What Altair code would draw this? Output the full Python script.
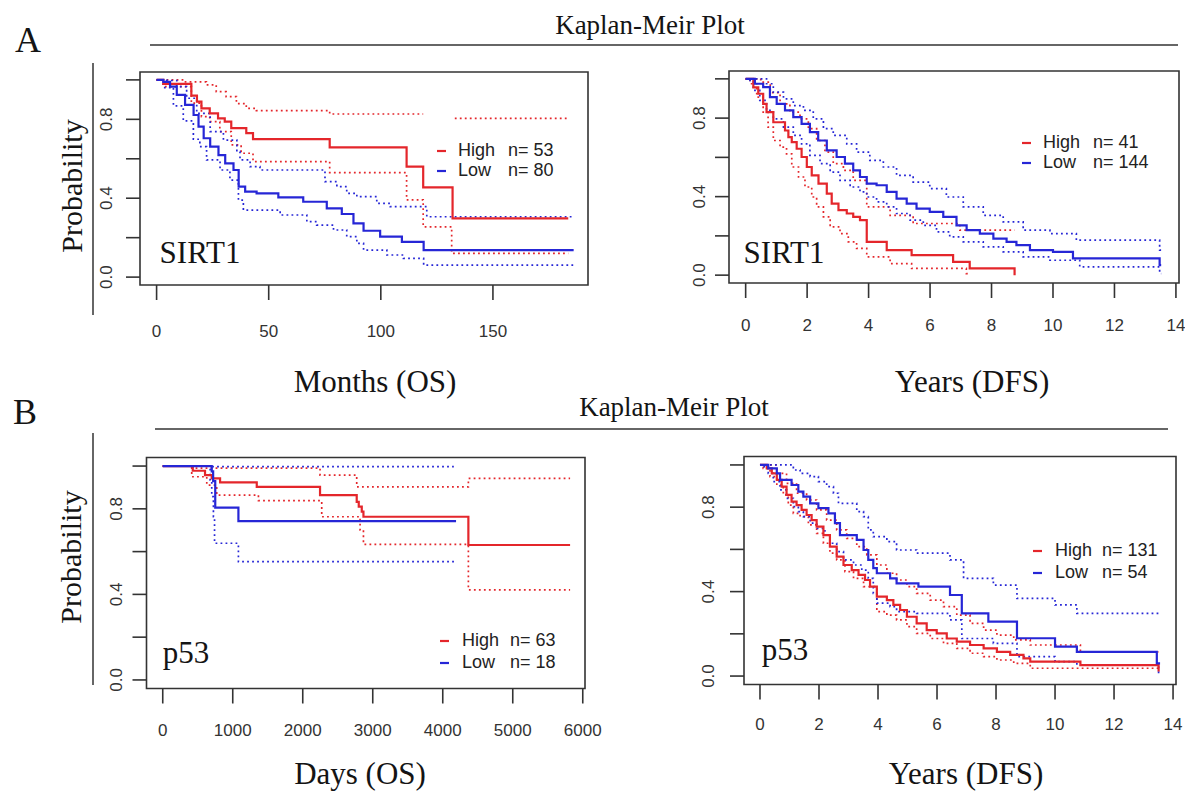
import altair as alt
import pandas as pd

RED = "#e4262b"
BLUE = "#2626d6"
INK = "#141414"
AXC = "#333333"
SERIF = "Liberation Serif"
SANS = "Liberation Sans"
GROUPS = ["High", "Low"]

# ---------------- Panel A1 : SIRT1, Months (OS) ----------------
a1_high_t = [0, 3, 15.5, 18, 20, 23.7, 27.4, 30.4, 33.3, 40, 43, 77.2, 111.5, 118.9, 132, 183.6]
a1_high_s = [1.0, 0.98, 0.92, 0.89, 0.856, 0.83, 0.805, 0.788, 0.755, 0.73, 0.70, 0.658, 0.56, 0.455, 0.298, 0.298]
a1_high_up1_t = [0, 12, 22.2, 26.6, 31, 35.6, 40, 44.5, 77.2, 118.9]
a1_high_up1_s = [1.0, 0.99, 0.975, 0.94, 0.915, 0.88, 0.856, 0.844, 0.827, 0.827]
a1_high_up2_t = [133, 183.6]
a1_high_up2_s = [0.805, 0.805]
a1_high_lo_t = [0, 3, 15.5, 20, 23.7, 28.2, 33.3, 37.7, 43, 77.2, 111.5, 118.9, 131.6, 183.6]
a1_high_lo_s = [1.0, 0.966, 0.882, 0.814, 0.788, 0.738, 0.67, 0.628, 0.586, 0.53, 0.392, 0.255, 0.12, 0.12]
a1_low_t = [0, 3, 6, 9, 12.7, 16.5, 18.7, 21, 23.9, 27.6, 30.6, 34.3, 36.6, 39.5, 44.6, 54.3, 65.4,
            75.9, 82.6, 87.8, 92.3, 99.7, 109.4, 119.1, 186]
a1_low_s = [1.0, 0.99, 0.966, 0.924, 0.873, 0.822, 0.763, 0.704, 0.662, 0.619, 0.577, 0.543, 0.459,
            0.433, 0.425, 0.404, 0.382, 0.349, 0.32, 0.272, 0.235, 0.205, 0.179, 0.137, 0.137]
a1_low_up_t = [0, 4.5, 9, 13.4, 17.9, 23.9, 29.8, 35.8, 37.2, 41.7, 46.1, 75.1, 80.4, 84.8, 89.3, 98.2,
               104.2, 120.5, 186]
a1_low_up_s = [1.0, 0.997, 0.966, 0.907, 0.83, 0.738, 0.695, 0.636, 0.594, 0.56, 0.543, 0.484, 0.459,
               0.425, 0.408, 0.374, 0.357, 0.306, 0.306]
a1_low_lo_t = [0, 3, 7.5, 11.9, 16.4, 19.3, 22.3, 28.3, 32.7, 36.5, 38.7, 55.1, 67, 71.4, 78.9, 84.8,
               89.3, 92.3, 102.7, 110.1, 119.1, 186]
a1_low_lo_s = [1.0, 0.961, 0.868, 0.792, 0.699, 0.662, 0.594, 0.543, 0.492, 0.39, 0.34, 0.315, 0.281,
               0.264, 0.239, 0.205, 0.171, 0.137, 0.112, 0.095, 0.061, 0.061]

# ---------------- Panel A2 : SIRT1, Years (DFS) ----------------
a2_high_t = [0, 0.25, 0.41, 0.57, 0.68, 0.9, 1.28, 1.39, 1.5, 1.66, 1.82, 1.99, 2.15, 2.37, 2.64, 2.8,
             3.02, 3.29, 3.5, 3.72, 3.94, 4.59, 5.4, 6.75, 7.29, 8.75]
a2_high_s = [1.0, 0.957, 0.924, 0.873, 0.83, 0.779, 0.737, 0.703, 0.678, 0.644, 0.602, 0.551, 0.508,
             0.466, 0.415, 0.364, 0.331, 0.314, 0.297, 0.28, 0.17, 0.127, 0.102, 0.068, 0.034, 0.0]
a2_high_up_t = [0, 0.49, 0.8, 1.12, 1.44, 1.77, 2.04, 2.31, 2.58, 2.85, 3.18, 3.5, 3.94, 4.7, 5.45, 6.97, 8.75]
a2_high_up_s = [1.0, 0.983, 0.93, 0.873, 0.83, 0.796, 0.746, 0.686, 0.627, 0.568, 0.534, 0.483, 0.348,
                0.305, 0.263, 0.229, 0.229]
a2_high_lo_t = [0, 0.14, 0.36, 0.57, 0.73, 0.9, 1.12, 1.33, 1.5, 1.72, 1.93, 2.15, 2.31, 2.53, 2.75, 3.07,
                3.34, 3.61, 3.94, 4.7, 5.4, 7.18, 7.24]
a2_high_lo_s = [1.0, 0.975, 0.907, 0.83, 0.754, 0.686, 0.652, 0.618, 0.551, 0.5, 0.449, 0.398, 0.348,
                0.297, 0.246, 0.212, 0.17, 0.136, 0.093, 0.059, 0.034, 0.008, 0.008]
a2_low_t = [0, 0.3, 0.57, 0.79, 1.01, 1.28, 1.55, 1.82, 2.09, 2.36, 2.64, 2.96, 3.23, 3.5, 3.72, 3.94,
            4.26, 4.59, 4.91, 5.24, 5.56, 5.99, 6.43, 6.86, 7.19, 7.62, 8.06, 8.49, 8.81, 9.25, 10.0,
            10.65, 13.47, 13.52]
a2_low_s = [1.0, 0.975, 0.958, 0.907, 0.873, 0.839, 0.805, 0.771, 0.729, 0.686, 0.636, 0.602, 0.568,
            0.534, 0.5, 0.466, 0.458, 0.424, 0.39, 0.364, 0.339, 0.322, 0.297, 0.254, 0.229, 0.212,
            0.186, 0.17, 0.153, 0.127, 0.119, 0.085, 0.051, 0.051]
a2_low_up_t = [0, 0.46, 0.68, 0.9, 1.23, 1.55, 1.88, 2.2, 2.53, 2.85, 3.29, 3.61, 4.04, 4.48, 4.91, 5.45,
               5.99, 6.53, 7.08, 7.73, 8.38, 9.03, 9.9, 10.76, 13.47, 13.52]
a2_low_up_s = [1.0, 1.0, 0.975, 0.932, 0.898, 0.864, 0.839, 0.796, 0.746, 0.712, 0.669, 0.627, 0.585,
               0.551, 0.508, 0.474, 0.441, 0.398, 0.348, 0.305, 0.271, 0.229, 0.212, 0.178, 0.127, 0.127]
a2_low_lo_t = [0, 0.03, 0.25, 0.46, 0.68, 0.9, 1.23, 1.55, 1.82, 2.09, 2.42, 2.75, 3.07, 3.4, 3.72, 3.94,
               4.26, 4.59, 4.91, 5.35, 5.78, 6.21, 6.64, 7.08, 7.73, 8.38, 9.03, 9.9, 10.87, 13.47, 13.52]
a2_low_lo_s = [1.0, 0.992, 0.941, 0.89, 0.839, 0.796, 0.754, 0.712, 0.669, 0.61, 0.568, 0.525, 0.483,
               0.449, 0.424, 0.398, 0.373, 0.348, 0.314, 0.28, 0.254, 0.22, 0.195, 0.17, 0.144, 0.119,
               0.093, 0.076, 0.042, 0.008, 0.008]

# ---------------- Panel B1 : p53, Days (OS) ----------------
b1_high_t = [0, 429, 604, 700, 819, 1343, 2247, 2771, 2800, 2843, 2867, 4366, 5819]
b1_high_s = [1.0, 0.978, 0.958, 0.942, 0.924, 0.903, 0.864, 0.833, 0.81, 0.787, 0.763, 0.631, 0.631]
b1_high_up_t = [0, 429, 2247, 2771, 4366, 5819]
b1_high_up_s = [1.0, 0.99, 0.958, 0.903, 0.942, 0.942]
b1_high_lo_t = [0, 414, 629, 771, 1367, 2271, 2819, 2867, 4366, 5819]
b1_high_lo_s = [1.0, 0.95, 0.911, 0.864, 0.838, 0.763, 0.701, 0.634, 0.421, 0.421]
b1_low_t = [0, 700, 720, 750, 1081, 4190]
b1_low_s = [1.0, 0.975, 0.93, 0.806, 0.743, 0.743]
b1_low_up_t = [0, 700, 4158]
b1_low_up_s = [1.0, 0.997, 0.997]
b1_low_lo_t = [0, 677, 700, 724, 740, 1081, 4176]
b1_low_lo_s = [1.0, 0.935, 0.857, 0.763, 0.639, 0.553, 0.553]

# ---------------- Panel B2 : p53, Years (DFS) ----------------
b2_high_t = [0, 0.23, 0.4, 0.57, 0.735, 0.9, 1.07, 1.24, 1.41, 1.58, 1.75, 1.92, 2.15, 2.37, 2.6, 2.83,
             3.11, 3.34, 3.56, 3.73, 3.96, 4.3, 4.52, 4.75, 4.98, 5.31, 5.65, 5.99, 6.33, 6.67, 7.12,
             7.58, 8.03, 8.48, 8.93, 9.16, 10.86, 13.51]
b2_high_s = [1.0, 0.984, 0.96, 0.929, 0.897, 0.858, 0.826, 0.81, 0.787, 0.763, 0.739, 0.708, 0.668,
             0.613, 0.566, 0.526, 0.502, 0.479, 0.455, 0.424, 0.376, 0.36, 0.337, 0.313, 0.281, 0.25,
             0.218, 0.202, 0.178, 0.163, 0.147, 0.131, 0.115, 0.1, 0.084, 0.068, 0.052, 0.021]
b2_high_up_t = [0, 0.23, 0.57, 0.9, 1.24, 1.58, 1.92, 2.26, 2.6, 2.94, 3.28, 3.62, 3.96, 4.3, 4.63, 4.98,
                5.31, 5.77, 6.22, 6.67, 7.12, 7.58, 8.03, 8.6, 9.16, 10.86, 13.51]
b2_high_up_s = [1.0, 1.0, 0.96, 0.913, 0.866, 0.834, 0.787, 0.739, 0.692, 0.652, 0.613, 0.574, 0.526,
                0.487, 0.455, 0.424, 0.392, 0.36, 0.329, 0.289, 0.25, 0.218, 0.194, 0.171, 0.147,
                0.115, 0.115]
b2_high_lo_t = [0, 0.11, 0.34, 0.57, 0.79, 0.96, 1.13, 1.36, 1.64, 1.92, 2.15, 2.37, 2.6, 2.88, 3.17,
                3.51, 3.96, 4.3, 4.63, 4.98, 5.31, 5.77, 6.22, 6.67, 7.12, 7.58, 8.03, 8.6, 9.16, 13.51]
b2_high_lo_s = [1.0, 0.984, 0.945, 0.905, 0.858, 0.81, 0.771, 0.755, 0.716, 0.676, 0.629, 0.582, 0.55,
                0.495, 0.463, 0.424, 0.305, 0.289, 0.266, 0.234, 0.202, 0.178, 0.155, 0.131, 0.108,
                0.092, 0.076, 0.06, 0.037, 0.037]
b2_low_t = [0, 0.28, 0.57, 0.68, 1.07, 1.3, 1.47, 1.7, 1.98, 2.32, 2.54, 2.71, 3.28, 3.51, 3.67, 3.84,
            3.96, 4.41, 4.63, 5.37, 6.44, 6.84, 7.74, 8.71, 10.0, 10.74, 13.45, 13.56]
b2_low_s = [1.0, 0.984, 0.96, 0.929, 0.905, 0.874, 0.85, 0.818, 0.795, 0.771, 0.724, 0.668, 0.645,
            0.597, 0.55, 0.511, 0.487, 0.463, 0.439, 0.424, 0.384, 0.297, 0.258, 0.179, 0.139, 0.115,
            0.06, 0.06]
b2_low_up_t = [0, 1.13, 1.36, 1.7, 1.98, 2.26, 2.49, 2.66, 3.28, 3.51, 3.67, 3.84, 4.3, 4.63, 5.31, 6.44,
               6.9, 7.91, 8.71, 10.0, 10.74, 13.56]
b2_low_up_s = [1.0, 0.976, 0.96, 0.945, 0.921, 0.897, 0.866, 0.818, 0.779, 0.755, 0.692, 0.66, 0.637,
               0.597, 0.582, 0.55, 0.463, 0.431, 0.368, 0.337, 0.297, 0.297]
b2_low_lo_t = [0, 0.06, 0.28, 0.45, 0.68, 0.9, 1.13, 1.3, 1.47, 1.7, 1.92, 2.2, 2.37, 2.6, 2.83, 3.17,
               3.45, 3.67, 3.84, 3.96, 4.41, 4.63, 5.31, 6.44, 6.84, 7.91, 8.71, 10.0, 10.74, 13.51, 13.56]
b2_low_lo_s = [1.0, 0.992, 0.96, 0.921, 0.882, 0.842, 0.803, 0.779, 0.755, 0.724, 0.7, 0.668, 0.629,
               0.589, 0.55, 0.526, 0.502, 0.463, 0.392, 0.345, 0.329, 0.305, 0.297, 0.266, 0.178, 0.155,
               0.092, 0.068, 0.052, 0.013, 0.013]

# ---------------- tick values / labels ----------------
a1_xticks = [0, 50, 100, 150]
b1_xticks = [0, 1000, 2000, 3000, 4000, 5000, 6000]
yrs_xticks = [0, 2, 4, 6, 8, 10, 12, 14]
y_ticks = [0, 0.2, 0.4, 0.6, 0.8, 1.0]
y_labeled = [0, 0.4, 0.8]
y_labels = ["0.0", "0.4", "0.8"]

n_counts = {"A1": (53, 80), "A2": (41, 144), "B1": (63, 18), "B2": (131, 54)}
gene = {"A1": "SIRT1", "A2": "SIRT1", "B1": "p53", "B2": "p53"}
x_titles = {"A1": "Months (OS)", "A2": "Years (DFS)", "B1": "Days (OS)", "B2": "Years (DFS)"}

curves = {
    "A1": [("H_est", "High", "est", a1_high_t, a1_high_s),
           ("H_up1", "High", "ci", a1_high_up1_t, a1_high_up1_s),
           ("H_up2", "High", "ci", a1_high_up2_t, a1_high_up2_s),
           ("H_lo", "High", "ci", a1_high_lo_t, a1_high_lo_s),
           ("L_est", "Low", "est", a1_low_t, a1_low_s),
           ("L_up", "Low", "ci", a1_low_up_t, a1_low_up_s),
           ("L_lo", "Low", "ci", a1_low_lo_t, a1_low_lo_s)],
    "A2": [("H_est", "High", "est", a2_high_t, a2_high_s),
           ("H_up", "High", "ci", a2_high_up_t, a2_high_up_s),
           ("H_lo", "High", "ci", a2_high_lo_t, a2_high_lo_s),
           ("L_est", "Low", "est", a2_low_t, a2_low_s),
           ("L_up", "Low", "ci", a2_low_up_t, a2_low_up_s),
           ("L_lo", "Low", "ci", a2_low_lo_t, a2_low_lo_s)],
    "B1": [("H_est", "High", "est", b1_high_t, b1_high_s),
           ("H_up", "High", "ci", b1_high_up_t, b1_high_up_s),
           ("H_lo", "High", "ci", b1_high_lo_t, b1_high_lo_s),
           ("L_est", "Low", "est", b1_low_t, b1_low_s),
           ("L_up", "Low", "ci", b1_low_up_t, b1_low_up_s),
           ("L_lo", "Low", "ci", b1_low_lo_t, b1_low_lo_s)],
    "B2": [("H_est", "High", "est", b2_high_t, b2_high_s),
           ("H_up", "High", "ci", b2_high_up_t, b2_high_up_s),
           ("H_lo", "High", "ci", b2_high_lo_t, b2_high_lo_s),
           ("L_est", "Low", "est", b2_low_t, b2_low_s),
           ("L_up", "Low", "ci", b2_low_up_t, b2_low_up_s),
           ("L_lo", "Low", "ci", b2_low_lo_t, b2_low_lo_s)],
}

# ---------------- layout (pixels) ----------------
Y_DOM = [-0.04, 1.04]
layout = {
    #       box (l, t, r, b)           x domain          x ticks     xlab_y ylab_x  title_y
    "A1": dict(box=(140, 72, 588, 285), xdom=[-7.4, 192.4], xt=a1_xticks, xly=332, ylx=107, tx=375, ty=383,
               gene_xy=(200, 263), leg=(437, 458, 508, 151, 171)),
    "A2": dict(box=(729, 71, 1179, 283), xdom=[-0.542, 14.1], xt=yrs_xticks, xly=326, ylx=700, tx=972, ty=383,
               gene_xy=(784, 263), leg=(1022, 1043, 1093, 143, 163)),
    "B1": dict(box=(146.5, 457.5, 585, 688.5), xdom=[-232, 6032], xt=b1_xticks, xly=731, ylx=117, tx=360, ty=775,
               gene_xy=(186, 663), leg=(440, 462, 510, 641, 663)),
    "B2": dict(box=(744, 456.5, 1176, 684.5), xdom=[-0.542, 14.1], xt=yrs_xticks, xly=725, ylx=709, tx=966, ty=775,
               gene_xy=(785, 660), leg=(1033, 1055, 1102, 551, 573)),
}

color_enc = alt.Color("group:N", scale=alt.Scale(domain=GROUPS, range=[RED, BLUE]), legend=None)


def txt(label, x, y, size, font=SERIF, align="center", baseline="middle", angle=0, color=INK):
    return alt.Chart(pd.DataFrame({"label": [label]})).mark_text(
        font=font, fontSize=size, align=align, baseline=baseline, angle=angle, color=color
    ).encode(text="label:N", x=alt.value(x), y=alt.value(y))


def hrule(x0, x1, y, color=AXC, w=1.5):
    return alt.Chart(pd.DataFrame({"k": [0]})).mark_rule(color=color, strokeWidth=w).encode(
        x=alt.value(x0), x2=alt.value(x1), y=alt.value(y))


def vrule(x, y0, y1, color=AXC, w=1.5):
    return alt.Chart(pd.DataFrame({"k": [0]})).mark_rule(color=color, strokeWidth=w).encode(
        x=alt.value(x), y=alt.value(y0), y2=alt.value(y1))


def panel(key):
    L = layout[key]
    left, top, right, bottom = L["box"]
    xs = alt.Scale(domain=L["xdom"], range=[left, right], nice=False, zero=False)
    ys = alt.Scale(domain=Y_DOM, range=[bottom, top], nice=False, zero=False)
    rows = []
    for series, group, kind, ts, ss in curves[key]:
        for t, s in zip(ts, ss):
            rows.append({"series": series, "group": group, "kind": kind, "t": t, "s": s})
    df = pd.DataFrame(rows)
    out = []
    # frame
    out.append(alt.Chart(pd.DataFrame({"x0": [L["xdom"][0]], "x1": [L["xdom"][1]],
                                       "y0": [Y_DOM[0]], "y1": [Y_DOM[1]]}))
               .mark_rect(fill="white", fillOpacity=0, stroke=AXC, strokeWidth=1.6)
               .encode(x=alt.X("x0:Q", scale=xs, axis=None), x2="x1:Q",
                       y=alt.Y("y0:Q", scale=ys, axis=None), y2="y1:Q"))
    # confidence limits (dotted) then estimates (solid)
    out.append(alt.Chart(df[df.kind == "ci"]).mark_line(interpolate="step-after", strokeWidth=1.7,
                                                        strokeDash=[1.8, 3.2])
               .encode(x=alt.X("t:Q", scale=xs, axis=None), y=alt.Y("s:Q", scale=ys, axis=None),
                       color=color_enc, detail="series:N"))
    out.append(alt.Chart(df[df.kind == "est"]).mark_line(interpolate="step-after", strokeWidth=2.2)
               .encode(x=alt.X("t:Q", scale=xs, axis=None), y=alt.Y("s:Q", scale=ys, axis=None),
                       color=color_enc, detail="series:N"))
    # x axis ticks + labels
    xt = pd.DataFrame({"v": L["xt"], "lab": [str(v) for v in L["xt"]]})
    out.append(alt.Chart(xt).mark_rule(color=AXC, strokeWidth=1.6)
               .encode(x=alt.X("v:Q", scale=xs, axis=None), y=alt.value(bottom), y2=alt.value(bottom + 15)))
    out.append(alt.Chart(xt).mark_text(font=SANS, fontSize=17, color=AXC, baseline="middle")
               .encode(x=alt.X("v:Q", scale=xs, axis=None), y=alt.value(L["xly"]), text="lab:N"))
    # y axis ticks + labels
    yt = pd.DataFrame({"v": y_ticks})
    out.append(alt.Chart(yt).mark_rule(color=AXC, strokeWidth=1.6)
               .encode(y=alt.Y("v:Q", scale=ys, axis=None), x=alt.value(left - 14), x2=alt.value(left)))
    yl = pd.DataFrame({"v": y_labeled, "lab": y_labels})
    out.append(alt.Chart(yl).mark_text(font=SANS, fontSize=17, color=AXC, angle=270, baseline="middle")
               .encode(y=alt.Y("v:Q", scale=ys, axis=None), x=alt.value(L["ylx"]), text="lab:N"))
    # gene label
    gx, gy = L["gene_xy"]
    out.append(txt(gene[key], gx, gy, 31, baseline="alphabetic"))
    # legend
    dx, hx, nx, yh, yl_ = L["leg"]
    for grp, n, yy in zip(GROUPS, n_counts[key], (yh, yl_)):
        out.append(alt.Chart(pd.DataFrame({"group": [grp]})).mark_rule(strokeWidth=2.2)
                   .encode(x=alt.value(dx), x2=alt.value(dx + 9), y=alt.value(yy), color=color_enc))
        out.append(txt(grp, hx, yy, 18, font=SANS, align="left", color="#222222"))
        out.append(txt(f"n= {n}", nx, yy, 18, font=SANS, align="left", color="#222222"))
    # x axis title
    out.append(txt(x_titles[key], L["tx"], L["ty"], 31))
    return out


layers = []
for k in ["A1", "A2", "B1", "B2"]:
    layers += panel(k)

# figure decorations
layers += [
    txt("A", 28, 41, 36),
    txt("Kaplan-Meir Plot", 650, 26, 27),
    hrule(150, 1178, 45),
    vrule(93, 63, 315),
    txt("Probability", 73, 186, 30, angle=270),
    txt("B", 25, 413, 36),
    txt("Kaplan-Meir Plot", 674, 408, 27),
    hrule(155, 1168, 429),
    vrule(93, 433, 685),
    txt("Probability", 72, 557, 30, angle=270),
]

chart = alt.layer(*layers).resolve_scale(x="independent", y="independent").properties(
    width=1185, height=796, padding=0, autosize=alt.AutoSizeParams(type="none"),
    background="white",
).configure_view(stroke=None)

chart.save("out.html", embed_options={"renderer": "svg", "actions": False})
